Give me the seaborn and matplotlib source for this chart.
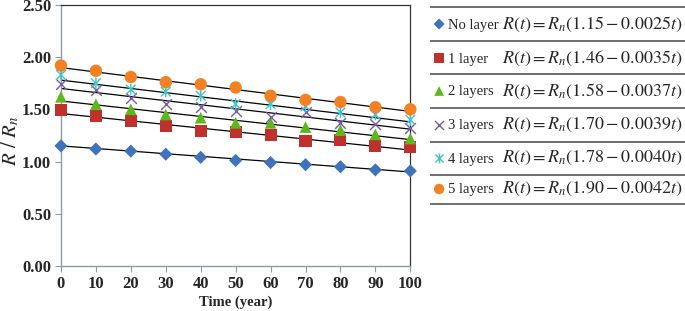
import numpy as np
import pandas as pd
from matplotlib import pyplot as plt
from matplotlib.path import Path
import seaborn as sns

# data
t = [0, 10, 20, 30, 40, 50, 60, 70, 80, 90, 100]
no_layer = [1.15, 1.12, 1.10, 1.07, 1.04, 1.01, 0.99, 0.97, 0.95, 0.92, 0.91]
layer1 = [1.49, 1.44, 1.39, 1.34, 1.29, 1.28, 1.25, 1.20, 1.21, 1.15, 1.14]
layer2 = [1.62, 1.55, 1.50, 1.45, 1.42, 1.37, 1.37, 1.33, 1.30, 1.26, 1.22]
layer3 = [1.74, 1.69, 1.61, 1.55, 1.52, 1.48, 1.43, 1.47, 1.37, 1.36, 1.32]
layer4 = [1.83, 1.75, 1.69, 1.67, 1.63, 1.55, 1.55, 1.53, 1.47, 1.45, 1.40]
layer5 = [1.92, 1.87, 1.81, 1.76, 1.74, 1.71, 1.63, 1.59, 1.57, 1.52, 1.50]

names = ['No layer', '1 layer', '2 layers', '3 layers', '4 layers', '5 layers']
intercepts = [1.15, 1.46, 1.58, 1.70, 1.78, 1.90]
slopes = [0.0025, 0.0035, 0.0037, 0.0039, 0.0040, 0.0042]
eq_text = ['1.15-0.0025t', '1.46-0.0035t', '1.58-0.0037t',
           '1.70-0.0039t', '1.78-0.0040t', '1.90-0.0042t']

series = [no_layer, layer1, layer2, layer3, layer4, layer5]
colors = ['#3F74BC', '#C0302C', '#5DB81C', '#7B5AA8', '#3EC4CC', '#F28123']

# excel style star: x plus a vertical bar
star = Path([(-1, -1), (1, 1), (-1, 1), (1, -1), (0, -1.2), (0, 1.2)],
            [Path.MOVETO, Path.LINETO, Path.MOVETO, Path.LINETO, Path.MOVETO, Path.LINETO])
markers = ['D', 's', '^', 'x', star, 'o']
msizes = [45, 75, 70, 60, 70, 80]

rows = []
for name, vals in zip(names, series):
    for ti, v in zip(t, vals):
        rows.append((name, ti, v))
df = pd.DataFrame(rows, columns=['layer', 't', 'R'])

sns.set_style('white')
plt.rcParams['font.family'] = ['Liberation Serif', 'DejaVu Serif']
plt.rcParams['mathtext.fontset'] = 'stix'

fig = plt.figure(figsize=(6.85, 3.11), dpi=100)
ax = fig.add_axes([0.089, 0.145, 0.51, 0.839])

tt = np.array([0, 100])
for i, name in enumerate(names):
    ax.plot(tt, intercepts[i] - slopes[i] * tt, color='black', lw=0.9, zorder=2)

for i, name in enumerate(names):
    d = df[df.layer == name]
    if i == 3:
        sns.scatterplot(data=d, x='t', y='R', ax=ax, marker='x', s=msizes[i],
                        color=colors[i], linewidth=1.0, zorder=3, clip_on=False)
    elif i == 4:
        sns.scatterplot(data=d, x='t', y='R', ax=ax, marker=star, s=msizes[i],
                        color=colors[i], edgecolor=colors[i], facecolor='none',
                        linewidth=1.0, zorder=3, clip_on=False)
    else:
        sns.scatterplot(data=d, x='t', y='R', ax=ax, marker=markers[i], s=msizes[i],
                        color=colors[i], edgecolor='none', zorder=3, clip_on=False)

ax.set_xlim(0, 100)
ax.set_ylim(0, 2.5)
ax.set_xticks(range(0, 101, 10))
ax.set_yticks(np.arange(0, 2.51, 0.5))
ax.set_yticklabels(['%.2f' % v for v in np.arange(0, 2.51, 0.5)])
ax.tick_params(axis='both', labelsize=12, length=4, width=0.8, color='#8A9BAA',
               direction='out', bottom=True, left=True, pad=3)
for lab in ax.get_xticklabels() + ax.get_yticklabels():
    lab.set_fontweight('bold')
for s in ['left', 'bottom']:
    ax.spines[s].set_color('#8A9BAA')
    ax.spines[s].set_linewidth(1.0)
for s in ['top', 'right']:
    ax.spines[s].set_color('#333333')
    ax.spines[s].set_linewidth(0.9)
ax.set_xlabel('Time (year)', fontsize=10.5, fontweight='bold', va='center')
ax.xaxis.set_label_coords(0.5, -0.14)
ax.set_ylabel(r'$R\ /\ R_n$', fontsize=15, va='center')
ax.yaxis.set_label_coords(-0.145, 0.48)

# equation table on the right
tab = fig.add_axes([0.628, 0.0, 0.372, 1.0])
tab.set_xlim(0, 1)
tab.set_ylim(311, 0)
tab.axis('off')
lines_y = [7, 41, 74, 108, 142, 175, 204]
for y in lines_y:
    tab.plot([0, 1], [y, y], color='#555555', lw=1.2)
row_y = [24, 58, 91, 125, 158, 189]
for i, name in enumerate(names):
    y = row_y[i]
    if i in (3, 4):
        tab.scatter([0.035], [y], marker=markers[i], s=msizes[i] * 0.7, color=colors[i],
                    linewidth=1.0, clip_on=False)
    else:
        tab.scatter([0.035], [y], marker=markers[i], s=msizes[i] * 0.7, color=colors[i],
                    edgecolor='none', clip_on=False)
    tab.text(0.07, y + 1, name, fontsize=10.5, va='center', ha='left')
    a, b = eq_text[i].split('-')
    tab.text(0.99, y, r'$R(t) = R_n(%s - %s)$' % (a, b),
             fontsize=13, va='center', ha='right')

fig.savefig('out.png', dpi=100)
